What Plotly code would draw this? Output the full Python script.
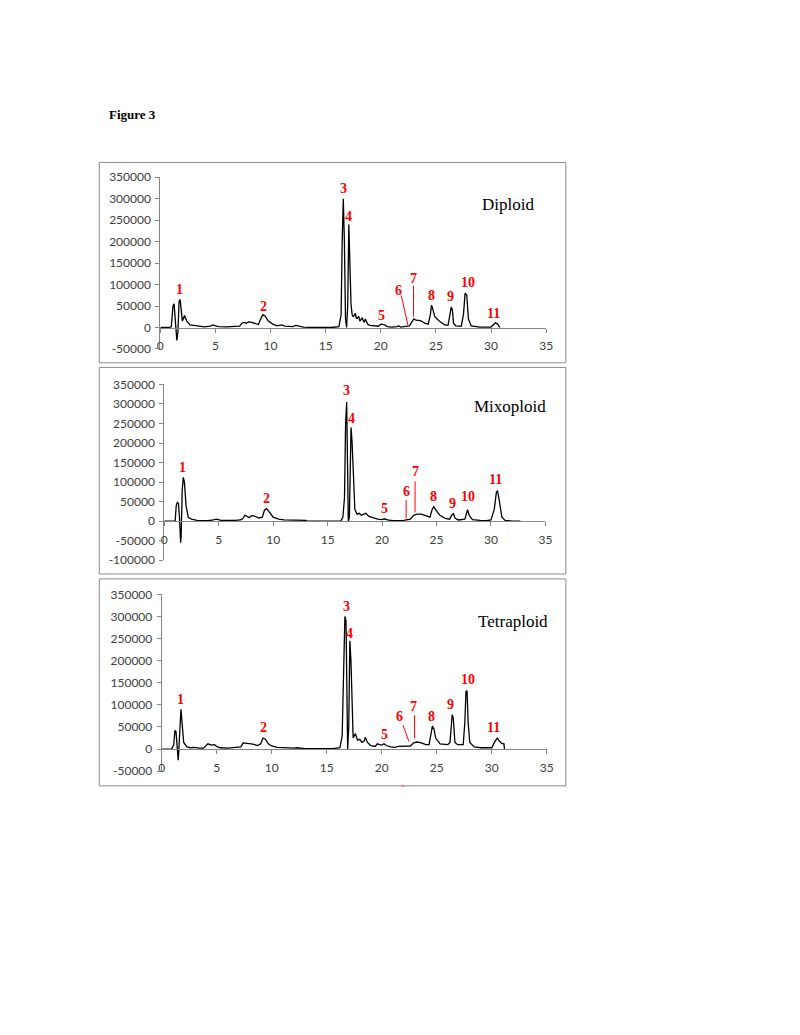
import plotly.graph_objects as go

# ---------------- data (retention time [min], intensity) ----------------
dip_t = [0, 0.8, 1.0, 1.15, 1.25, 1.35, 1.5, 1.6, 1.7, 1.8, 1.9, 2.0, 2.2, 2.4, 2.7, 3.0, 3.2, 3.5, 4.0, 4.5, 4.8,
         5.0, 5.3, 6.0, 6.6, 7.2, 7.4, 7.6, 7.8, 8.0, 8.3, 8.6, 8.9, 9.1, 9.3, 9.5, 9.8, 10.2, 10.6, 11.0, 11.3,
         12.0, 12.3, 12.6, 13.0, 14.0, 15.5, 16.2, 16.4, 16.5, 16.6, 16.7, 16.8, 16.9, 17.0, 17.1, 17.2, 17.3,
         17.4, 17.5, 17.7, 17.8, 18.0, 18.1, 18.3, 18.5, 18.6, 18.8, 19.0, 19.5, 19.8, 20.0, 20.3, 20.6, 21.0,
         21.5, 21.6, 21.8, 22.2, 22.6, 22.8, 23.0, 23.2, 23.6, 24.0, 24.3, 24.5, 24.6, 24.7, 24.9, 25.3, 25.8,
         26.1, 26.3, 26.4, 26.5, 26.6, 26.8, 27.3, 27.5, 27.65, 27.8, 27.95, 28.2, 29.0, 30.0, 30.2, 30.4, 30.6, 30.8]
dip_y = [0, 0, 2000, 50000, 55000, 20000, -30000, -10000, 60000, 65000, 30000, 15000, 28000, 15000, 6000, 5000,
         3000, 2000, 1500, 3000, 6000, 4000, 2000, 1500, 2000, 3000, 10000, 12000, 10000, 13000, 12000, 10000,
         7000, 20000, 30000, 27000, 15000, 8000, 4000, 6000, 3000, 2000, 5000, 3000, 1000, 0, 0, 2000, 30000,
         200000, 300000, 200000, 20000, 0, 50000, 240000, 150000, 55000, 30000, 25000, 33000, 20000, 26000,
         15000, 22000, 12000, 20000, 8000, 5000, 3000, 3000, 8000, 7000, 2000, 1000, 2000, 4000, 1000, 3000,
         4000, 12000, 20000, 17000, 16000, 10000, 8000, 30000, 52000, 45000, 25000, 15000, 6000, 5000, 35000,
         48000, 40000, 10000, 4000, 3000, 30000, 80000, 75000, 20000, 4000, 1000, 1000, 5000, 11000, 8000, 0]

mix_t = [0, 1.0, 1.1, 1.2, 1.3, 1.4, 1.5, 1.55, 1.65, 1.75, 1.85, 2.0, 2.2, 2.5, 3.0, 3.5, 4.0, 4.5, 4.8, 5.2,
         6.0, 6.5, 7.0, 7.2, 7.4, 7.6, 7.8, 8.0, 8.3, 8.7, 9.0, 9.2, 9.4, 9.6, 10.0, 10.5, 11.0, 13.0, 13.1,
         16.2, 16.4, 16.55, 16.65, 16.75, 16.85, 16.9, 17.0, 17.1, 17.15, 17.25, 17.4, 17.5, 17.7, 17.9, 18.1,
         18.3, 18.5, 18.8, 19.2, 19.6, 20.0, 20.2, 20.5, 21.0, 22.0, 22.6, 22.9, 23.2, 23.6, 24.0, 24.4, 24.6,
         24.75, 24.9, 25.3, 25.8, 26.2, 26.4, 26.55, 26.7, 27.0, 27.6, 27.75, 27.85, 28.0, 28.3, 29.0, 29.6,
         30.0, 30.3, 30.5, 30.6, 30.75, 31.0, 31.3, 32.0, 32.7]
mix_y = [0, 0, 40000, 48000, 45000, 10000, -55000, -40000, 80000, 112000, 100000, 40000, 10000, 5000, 2000,
         2000, 1000, 3000, 5000, 2000, 1000, 2000, 3000, 6000, 15000, 12000, 9000, 14000, 13000, 8000, 10000,
         28000, 32000, 25000, 10000, 5000, 3000, 2000, 0, 0, 10000, 60000, 250000, 305000, 150000, 0, 10000,
         200000, 240000, 200000, 80000, 30000, 18000, 20000, 15000, 18000, 20000, 12000, 8000, 5000, 4000, 6000,
         3000, 1000, 2000, 5000, 15000, 18000, 18000, 13000, 10000, 30000, 37000, 30000, 15000, 7000, 5000,
         15000, 19000, 8000, 3000, 5000, 25000, 29000, 15000, 4000, 2000, 1000, 3000, 30000, 75000, 77000,
         55000, 10000, 2000, 0, 0]

tet_t = [0, 0.9, 1.1, 1.2, 1.3, 1.4, 1.5, 1.55, 1.7, 1.75, 1.85, 2.0, 2.3, 2.6, 3.0, 3.4, 3.8, 4.0, 4.2, 4.5,
         4.8, 5.0, 5.3, 6.0, 6.8, 7.2, 7.4, 7.7, 8.0, 8.3, 8.7, 9.0, 9.2, 9.4, 9.7, 10.0, 10.5, 11.0, 12.0,
         12.3, 13.0, 15.6, 16.2, 16.4, 16.55, 16.65, 16.75, 16.85, 16.9, 17.0, 17.1, 17.2, 17.3, 17.4, 17.6,
         17.7, 17.8, 18.0, 18.2, 18.4, 18.5, 18.7, 19.0, 19.4, 19.6, 19.8, 20.0, 20.2, 20.4, 20.8, 21.2, 21.5,
         22.0, 22.6, 22.9, 23.2, 23.6, 24.0, 24.3, 24.5, 24.6, 24.75, 24.9, 25.3, 26.0, 26.2, 26.3, 26.4, 26.5,
         26.65, 26.9, 27.4, 27.55, 27.65, 27.75, 27.85, 28.0, 28.4, 29.0, 30.0, 30.3, 30.5, 30.7, 30.9, 31.1,
         31.15]
tet_y = [0, 0, 10000, 42000, 40000, 10000, -25000, -5000, 80000, 90000, 60000, 15000, 5000, 3000, 4000, 2000,
         2000, 8000, 12000, 9000, 10000, 6000, 3000, 2000, 3000, 5000, 14000, 13000, 13000, 11000, 8000, 12000,
         25000, 23000, 12000, 7000, 4000, 3000, 2000, 3000, 1000, 1000, 3000, 30000, 200000, 300000, 290000,
         100000, 0, 50000, 245000, 200000, 80000, 25000, 35000, 28000, 20000, 22000, 15000, 18000, 27000, 15000,
         8000, 6000, 12000, 10000, 9000, 12000, 8000, 5000, 4000, 6000, 6000, 7000, 14000, 16000, 14000, 10000,
         10000, 35000, 52000, 45000, 25000, 12000, 10000, 15000, 60000, 78000, 70000, 15000, 10000, 10000,
         60000, 130000, 132000, 60000, 15000, 5000, 3000, 3000, 18000, 25000, 18000, 13000, 12000, 0]

peak_names = ["1", "2", "3", "4", "5", "6", "7", "8", "9", "10", "11"]
dip_lab_t = [1.70, 9.32, 16.58, 17.09, 20.07, 21.57, 22.97, 24.61, 26.34, 27.90, 30.23]
dip_lab_y = [87800, 48200, 323400, 258300, 28900, 86200, 113000, 74800, 71100, 105500, 32800]
mix_lab_t = [1.72, 9.43, 16.72, 17.17, 20.19, 22.21, 23.03, 24.70, 26.45, 27.90, 30.43]
mix_lab_y = [138100, 58100, 335100, 261900, 32800, 76800, 127300, 64100, 45500, 62400, 106100]
tet_lab_t = [1.67, 9.21, 16.75, 17.06, 20.22, 21.63, 22.89, 24.53, 26.27, 27.83, 30.16]
tet_lab_y = [111600, 49100, 322100, 261200, 33500, 73000, 95300, 74300, 101100, 156300, 49100]

# leader lines for peaks 6 and 7: (t0, y0, t1, y1)
dip_leaders = [(21.86, 74800, 22.46, 6000), (22.97, 97700, 22.97, 25200)]
mix_leaders = [(22.21, 54000, 22.21, 6800), (23.03, 102000, 23.03, 22000)]
tet_leaders = [(21.93, 54200, 22.47, 17200), (22.98, 76600, 22.98, 24600)]

sample_names = ["Diploid", "Mixoploid", "Tetraploid"]
sample_pos = [(31.57, 286700), (31.73, 292900), (31.96, 288600)]

x_ticks = [0, 5, 10, 15, 20, 25, 30, 35]
y_ticks_a = [-50000, 0, 50000, 100000, 150000, 200000, 250000, 300000, 350000]
y_ticks_b = [-100000, -50000, 0, 50000, 100000, 150000, 200000, 250000, 300000, 350000]

# ---------------- layout geometry (pixels on an 800x1035 page) ----------------
W, H = 800, 1035
panels = [
    dict(t=dip_t, y=dip_y, lt=dip_lab_t, ly=dip_lab_y, lead=dip_leaders, yt=y_ticks_a,
         x0=159.3, x1=550.0, ybot=346.0, ytop=171.7, yzero=324.3, box=(97.5, 156.7, 570, 360)),
    dict(t=mix_t, y=mix_y, lt=mix_lab_t, ly=mix_lab_y, lead=mix_leaders, yt=y_ticks_b,
         x0=163.3, x1=549.3, ybot=560.3, ytop=382.0, yzero=520.7, box=(97.5, 364.7, 570, 574.3)),
    dict(t=tet_t, y=tet_y, lt=tet_lab_t, ly=tet_lab_y, lead=tet_leaders, yt=y_ticks_a,
         x0=160.7, x1=550.7, ybot=774.4, ytop=595.0, yzero=752.0, box=(97.5, 579.3, 570, 789.3)),
]

fig = go.Figure()
shapes = []
annotations = []
tick_font = dict(family="Lato, Carlito, Arial", size=12, color="#404040")
label_font = dict(family="Liberation Serif, Times New Roman, serif", size=14, color="#FF0000")

layout_axes = {}
for i, p in enumerate(panels):
    n = "" if i == 0 else str(i + 1)
    xa, ya = "x" + n, "y" + n
    fig.add_trace(go.Scatter(x=p["t"], y=p["y"], mode="lines", xaxis=xa, yaxis=ya,
                             line=dict(color="#000000", width=1.3), showlegend=False,
                             hoverinfo="skip"))
    yd = [1 - p["ybot"] / H, 1 - p["ytop"] / H]
    layout_axes["xaxis" + n] = dict(
        domain=[p["x0"] / W, p["x1"] / W], range=[0, 35], anchor="free",
        position=1 - p["yzero"] / H, showgrid=False, zeroline=False, showline=True,
        linecolor="#868686", linewidth=1, ticks="outside", ticklen=4, tickcolor="#868686",
        tickvals=x_ticks, ticktext=[str(v) for v in x_ticks], tickfont=tick_font,
        ticklabelstandoff=3)
    layout_axes["yaxis" + n] = dict(
        domain=yd, range=[p["yt"][0], p["yt"][-1]], anchor=xa, showgrid=False, zeroline=False,
        showline=True, linecolor="#868686", linewidth=1, ticks="outside", ticklen=4,
        tickcolor="#868686", tickvals=p["yt"], ticktext=[str(v) for v in p["yt"]],
        tickfont=tick_font, ticklabelstandoff=2)
    bx0, by0, bx1, by1 = p["box"]
    shapes.append(dict(type="rect", xref="paper", yref="paper", x0=bx0 / W, x1=bx1 / W,
                       y0=1 - by1 / H, y1=1 - by0 / H, line=dict(color="#8c8c8c", width=1)))
    for name, lt, ly in zip(peak_names, p["lt"], p["ly"]):
        annotations.append(dict(x=lt, y=ly, xref=xa, yref=ya, text="<b>" + name + "</b>",
                                showarrow=False, font=label_font, xanchor="center",
                                yanchor="middle"))
    for (t0, y0, t1, y1) in p["lead"]:
        shapes.append(dict(type="line", xref=xa, yref=ya, x0=t0, y0=y0, x1=t1, y1=y1,
                           line=dict(color="#FF0000", width=1)))
    sx, sy = sample_pos[i]
    annotations.append(dict(x=sx, y=sy, xref=xa, yref=ya, text=sample_names[i], showarrow=False,
                            font=dict(family="Liberation Serif, Times New Roman, serif", size=17,
                                      color="#000000"),
                            xanchor="center", yanchor="middle"))

# small pink scan mark on the bottom border of the last panel
shapes.append(dict(type="line", xref="paper", yref="paper", x0=403.5 / W, x1=406.5 / W,
                   y0=1 - 789.3 / H, y1=1 - 789.3 / H, line=dict(color="#f07890", width=2)))

annotations.append(dict(x=105 / W, y=1 - 108 / H, xref="paper", yref="paper", text="<b>Figure 3</b>",
                        showarrow=False, xanchor="left", yanchor="middle",
                        font=dict(family="Liberation Serif, Times New Roman, serif", size=13,
                                  color="#000000")))

fig.update_layout(width=W, height=H, margin=dict(l=0, r=0, t=0, b=0),
                  paper_bgcolor="white", plot_bgcolor="white",
                  shapes=shapes, annotations=annotations, **layout_axes)

fig.write_html("out.html", config={"displayModeBar": False},
               post_script="document.body.style.margin='0';document.body.style.padding='0';"
                           "document.documentElement.style.overflow='hidden';")
